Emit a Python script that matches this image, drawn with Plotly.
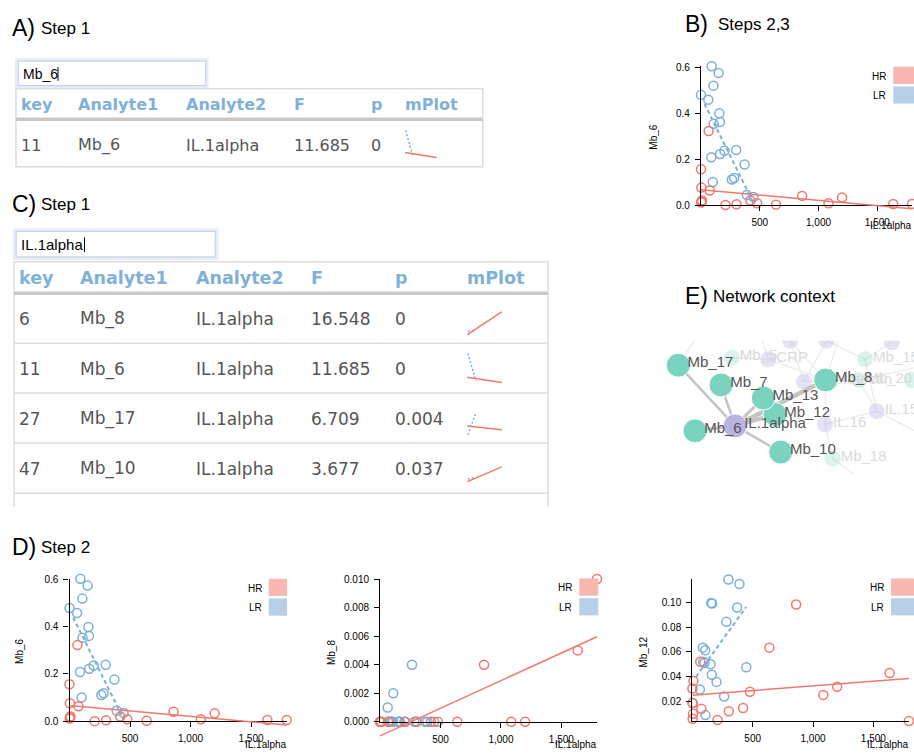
import plotly.graph_objects as go

W, H = 914, 756

# ---------------- data ----------------
# IL.1alpha (x) for the two groups
il1a_hr = [0, 3, 5, 2, 8, 65, 74, 208, 302, 420, 477, 638, 860, 1085, 1200, 1635, 1795]
il1a_lr = [0, 62, 87, 90, 100, 106, 108, 150, 156, 161, 163, 200, 263, 282, 299, 371, 390, 447]

mb6_hr = [0.156, 0.076, 0.017, 0.011, 0.020, 0.322, 0.063, 0.000, 0.004, 0.020, 0.008, 0.002, 0.040, 0.008, 0.033, 0.005, 0.005]
mb6_lr = [0.479, 0.458, 0.208, 0.603, 0.100, 0.519, 0.353, 0.574, 0.399, 0.361, 0.222, 0.236, 0.111, 0.118, 0.239, 0.176, 0.044, 0.035]
mb8_hr = [0, 0, 0, 0, 0, 0, 0, 0, 0, 0, 0, 0, 0.004, 0, 0, 0.005, 0.010]
mb8_lr = [0, 0.001, 0, 0, 0, 0, 0.002, 0, 0, 0, 0, 0, 0.004, 0, 0, 0, 0, 0]
mb12_hr = [0.0305, 0.0187, 0.010, 0.006, 0.0366, 0.052, 0.0142, 0.005, 0.0121, 0.0147, 0.0279, 0.0634, 0.0982, 0.0253, 0.0318, 0.0429, 0.0042]
mb12_lr = [0.0187, 0.0297, 0.0634, 0.0521, 0.051, 0.0613, 0.009, 0.050, 0.0995, 0.0416, 0.099, 0.0358, 0.024, 0.0842, 0.1184, 0.0958, 0.1147, 0.0476]

# regression fits [intercept, slope] per group
fit_mb6_hr = [0.0667, -4.6e-5]
fit_mb6_lr = [0.47, -1.03e-3]
fit_mb8_hr = [-0.00099, 3.87e-6]
fit_mb8_lr = [0.0001, 5e-7]
fit_mb12_hr = [0.0251, 7.5e-6]
fit_mb12_lr = [0.0359, 1.352e-4]
fit_mb17_hr = [0.278, -6.0e-5]   # Mb_17, scaled units
fit_mb17_lr = [-0.01, 1.46e-3]
fit_mb10_hr = [0.10, 2.26e-4]    # Mb_10, scaled units
fit_mb10_lr = [0.17, 8.5e-5]
lr_fit_start = 30

# tables
table_headers = ['key', 'Analyte1', 'Analyte2', 'F', 'p', 'mPlot']
tableA_key = ['11']
tableA_a1 = ['Mb_6']
tableA_a2 = ['IL.1alpha']
tableA_F = ['11.685']
tableA_p = ['0']
tableC_key = ['6', '11', '27', '47']
tableC_a1 = ['Mb_8', 'Mb_6', 'Mb_17', 'Mb_10']
tableC_a2 = ['IL.1alpha', 'IL.1alpha', 'IL.1alpha', 'IL.1alpha']
tableC_F = ['16.548', '11.685', '6.709', '3.677']
tableC_p = ['0', '0', '0.004', '0.037']

# network
net_main_names = ['Mb_17', 'Mb_7', 'Mb_8', 'Mb_12', 'Mb_13', 'Mb_6', 'IL.1alpha', 'Mb_10']
net_main_x = [18.3, 61.0, 165.7, 115.0, 103.3, 35.0, 75.0, 120.7]
net_main_y = [25.0, 45.0, 40.0, 75.0, 58.3, 91.7, 86.7, 113.3]
net_main_type = ['Mb', 'Mb', 'Mb', 'Mb', 'Mb', 'Mb', 'IL', 'Mb']
net_edge_src = ['Mb_17', 'Mb_7', 'Mb_13', 'Mb_8', 'Mb_12', 'Mb_6', 'Mb_10']
net_edge_weight = [2.5, 2.5, 3.0, 4.5, 4.0, 3.0, 2.5]

net_bg_names = ['Mb_5', 'CRP', 'IL.6', 'IL.8', 'IL.10', 'Mb_15', 'Calprotectin', 'Mb_20', 'Mb_21', 'IL.15', 'IL.16', 'Mb_18']
net_bg_labels = ['Mb_5', 'CRP', '', '', '', 'Mb_15', 'Calprotectin', 'Mb_20', '', 'IL.15', 'IL.16', 'Mb_18']
net_bg_x = [71.7, 108.3, 130.0, 166.7, 231.7, 205.0, 144.0, 198.3, 251.7, 216.7, 165.0, 172.7]
net_bg_y = [17.3, 19.0, 0.0, 0.0, 1.7, 19.0, 41.7, 40.0, 40.0, 71.7, 85.0, 120.0]
net_bg_type = ['Mb', 'IL', 'IL', 'IL', 'IL', 'Mb', 'IL', 'Mb', 'Mb', 'IL', 'IL', 'Mb']
net_out_names = ['o1', 'o2', 'o3', 'o4', 'o5', 'o6']
net_out_x = [90, 190, 290, 290, 240, 60]
net_out_y = [-40, -40, 20, 110, 170, -40]
net_bg_edges = [('CRP', 'o1'), ('Mb_5', 'CRP'), ('IL.6', 'Calprotectin'), ('IL.8', 'Calprotectin'),
                ('IL.8', 'Mb_15'), ('Mb_15', 'IL.10'), ('Mb_15', 'IL.15'), ('Mb_20', 'IL.15'),
                ('Mb_20', 'o3'), ('Calprotectin', 'Mb_20'), ('IL.16', 'Mb_8'), ('IL.16', 'IL.15'),
                ('IL.16', 'Mb_18'), ('IL.15', 'o4'), ('Mb_18', 'o5'), ('Mb_8', 'IL.6'),
                ('Mb_8', 'o2'), ('CRP', 'Mb_8'), ('Mb_17', 'o6')]

# ---------------- style ----------------
HR_COLOR = '#F4766C'
LR_COLOR = '#7BAFD8'
HR_KEY = '#F8B8B1'
LR_KEY = '#B8D0E7'
HEAD_COLOR = '#7FB1D9'
CELL_COLOR = '#555555'
TEAL = '#79D3BF'
PURPLE = '#B9B3E2'
FONT = 'Liberation Sans'
TFONT = 'DejaVu Sans'

fig = go.Figure()
axes_layout = {}
shapes = []
annotations = []
n_axes = [0]


def add_axes(xpx, ypx, xr, yr, pad=0.0, xstyle=None, ystyle=None):
    """xpx=(left,right) px, ypx=(bottom,top) px; xr/yr values at those px."""
    n_axes[0] += 1
    n = n_axes[0]
    sfx = '' if n == 1 else str(n)

    def xv(px):
        return xr[0] + (px - xpx[0]) * (xr[1] - xr[0]) / (xpx[1] - xpx[0])

    def yv(py):
        return yr[0] + (py - ypx[0]) * (yr[1] - yr[0]) / (ypx[1] - ypx[0])

    L = max(0.0, xpx[0] - pad)
    R = min(W, xpx[1] + pad)
    B = min(H, ypx[0] + pad)
    T = max(0.0, ypx[1] - pad)
    xa = dict(domain=[L / W, R / W], range=[xv(L), xv(R)], anchor='y' + sfx,
              visible=False, showgrid=False, zeroline=False, fixedrange=True)
    ya = dict(domain=[1 - B / H, 1 - T / H], range=[yv(B), yv(T)], anchor='x' + sfx,
              visible=False, showgrid=False, zeroline=False, fixedrange=True)
    if xstyle:
        xa.update(xstyle)
        xa['visible'] = True
    if ystyle:
        ya.update(ystyle)
        ya['visible'] = True
    axes_layout['xaxis' + sfx] = xa
    axes_layout['yaxis' + sfx] = ya
    return 'x' + sfx, 'y' + sfx


def add_text(px, py, s, size, color='black', family=FONT, xanchor='left', yanchor='middle', angle=0):
    annotations.append(dict(x=px / W, y=1 - py / H, xref='paper', yref='paper', text=s,
                            showarrow=False, xanchor=xanchor, yanchor=yanchor, textangle=angle,
                            borderpad=0, font=dict(size=size, color=color, family=family)))


def hline(x0, x1, y, color, width):
    shapes.append(dict(type='line', xref='paper', yref='paper', x0=x0 / W, x1=x1 / W,
                       y0=1 - y / H, y1=1 - y / H, line=dict(color=color, width=width)))


def vline(x, y0, y1, color, width):
    shapes.append(dict(type='line', xref='paper', yref='paper', x0=x / W, x1=x / W,
                       y0=1 - y0 / H, y1=1 - y1 / H, line=dict(color=color, width=width)))


def rect(x0, x1, y0, y1, line_color=None, width=0, fill=None):
    shapes.append(dict(type='rect', xref='paper', yref='paper', x0=x0 / W, x1=x1 / W,
                       y0=1 - y1 / H, y1=1 - y0 / H,
                       line=dict(color=line_color or 'rgba(0,0,0,0)', width=width),
                       fillcolor=fill or 'rgba(0,0,0,0)'))


def axis_style(tickvals, fmt):
    return dict(showline=True, linecolor='black', linewidth=1.3, ticks='outside', ticklen=5,
                tickwidth=1.3, tickcolor='black', tickvals=tickvals, tickformat=fmt,
                ticklabelstandoff=3,
                tickfont=dict(size=10, color='black', family=FONT))


def fit_line(fit, xs):
    return [fit[0] + fit[1] * x for x in xs]


IL_MAX = max(il1a_hr + il1a_lr)


def scatter_panel(box, y_hr, y_lr, fit_hr, fit_lr, yticks, yfmt, ylab, ylab_x, xlab_y,
                  legend, draw_lr_fit=True):
    x0, x1, yt, yb = box
    xr = [0, IL_MAX]
    yr = [min(y_hr + y_lr), max(y_hr + y_lr)]
    xs, ys = add_axes((x0, x1), (yb, yt), xr, yr, 0,
                      xstyle=axis_style([500, 1000, 1500], ',.0f'),
                      ystyle=axis_style(yticks, yfmt))
    xo, yo = add_axes((x0, x1), (yb, yt), xr, yr, 30)
    fig.add_trace(go.Scatter(x=il1a_lr, y=y_lr, mode='markers', xaxis=xs, yaxis=ys,
                             cliponaxis=False, hoverinfo='skip',
                             marker=dict(symbol='circle-open', size=9, color=LR_COLOR,
                                         line=dict(width=1.5))))
    fig.add_trace(go.Scatter(x=il1a_hr, y=y_hr, mode='markers', xaxis=xs, yaxis=ys,
                             cliponaxis=False, hoverinfo='skip',
                             marker=dict(symbol='circle-open', size=9, color=HR_COLOR,
                                         line=dict(width=1.5))))
    hx = [0, max(il1a_hr)]
    fig.add_trace(go.Scatter(x=hx, y=fit_line(fit_hr, hx), mode='lines', xaxis=xo, yaxis=yo,
                             hoverinfo='skip', line=dict(color=HR_COLOR, width=1.5)))
    if draw_lr_fit:
        lx = [lr_fit_start, max(il1a_lr)]
        fig.add_trace(go.Scatter(x=lx, y=fit_line(fit_lr, lx), mode='lines', xaxis=xo, yaxis=yo,
                                 hoverinfo='skip',
                                 line=dict(color=LR_COLOR, width=2, dash='4px,3px')))
    add_text(ylab_x, (yt + yb) / 2 + 2, ylab, 10, angle=-90, xanchor='center')
    add_text(x1 + 1, xlab_y, 'IL.1alpha', 10, xanchor='right')
    lx0, lx1, ly0, ty = legend
    rect(lx0, lx1, ly0, ly0 + 17.5, fill=HR_KEY)
    rect(lx0, lx1, ly0 + 20, ly0 + 37.5, fill=LR_KEY)
    add_text(ty, ly0 + 9.5, 'HR', 10, xanchor='right')
    add_text(ty, ly0 + 29.5, 'LR', 10, xanchor='right')


def mini_plot(xpx, ypx, yr, fit_hr, fit_lr):
    xo, yo = add_axes(xpx, ypx, [0, IL_MAX], yr, 6)
    hx = [0, max(il1a_hr)]
    lx = [lr_fit_start, max(il1a_lr)]
    fig.add_trace(go.Scatter(x=lx, y=fit_line(fit_lr, lx), mode='lines', xaxis=xo, yaxis=yo,
                             hoverinfo='skip', line=dict(color=LR_COLOR, width=1.5, dash='2px,2px')))
    fig.add_trace(go.Scatter(x=hx, y=fit_line(fit_hr, hx), mode='lines', xaxis=xo, yaxis=yo,
                             hoverinfo='skip', line=dict(color=HR_COLOR, width=1.5)))


def title(letter, rest, x, y, rest_x):
    add_text(x, y, letter, 23)
    add_text(rest_x, y + 0.5, rest, 17)


title('A)', 'Step 1', 10.5, 22, 40)
title('B)', 'Steps 2,3', 684, 18, 717)
title('C)', 'Step 1', 10.5, 201.5, 40)
title('D)', 'Step 2', 10.5, 550, 40)
title('E)', 'Network context', 684, 295, 712)

# ---------------- panel A table ----------------
rect(16.5, 207, 54.5, 82.5, line_color='#e6ecf8', width=3)
rect(18.3, 205.7, 56, 81, line_color='#c6d3ee', width=1.2, fill='white')
add_text(22, 69, 'Mb_6', 14)
vline(58, 62, 76, 'black', 1)
rect(16, 482.7, 84, 163.3, line_color='#dddddd', width=1.5)
hline(16, 482.7, 115, '#c8c8c8', 3.5)
colA = [21.3, 77.7, 185.7, 294.3, 370.7, 405]
for cx, h in zip(colA, table_headers):
    add_text(cx - 1, 100, '<b>' + h + '</b>', 16, HEAD_COLOR, TFONT)
for i in range(len(tableA_key)):
    vals = [tableA_key[i], tableA_a1[i], tableA_a2[i], tableA_F[i], tableA_p[i]]
    for cx, v in zip(colA, vals):
        add_text(cx - 1, 141.7, v, 16, CELL_COLOR, TFONT)
mini_plot((405, 436.7), (153, 116.5), [0, max(mb6_hr + mb6_lr)], fit_mb6_hr, fit_mb6_lr)

# ---------------- panel C table ----------------
rect(14.5, 217, 227.5, 256.5, line_color='#e6ecf8', width=3)
rect(16.2, 215.2, 229, 255, line_color='#c6d3ee', width=1.2, fill='white')
add_text(20, 242.5, 'IL.1alpha', 15)
vline(84.5, 235, 250, 'black', 1)
hline(14, 548, 260, '#dddddd', 1.5)
vline(14, 260, 509, '#dddddd', 1.5)
vline(548, 260, 508, '#dddddd', 1.5)
hline(14, 548, 292, '#c8c8c8', 3.5)
for yy in [342.7, 393.3, 444, 495]:
    hline(14, 548, yy, '#dddddd', 1.5)
colC = [18.9, 80, 196, 310.8, 394.6, 467.3]
for cx, h in zip(colC, table_headers):
    add_text(cx - 1, 276.5, '<b>' + h + '</b>', 17.5, HEAD_COLOR, TFONT)
rowC_y = [317.7, 369, 419.3, 470]
for i in range(len(tableC_key)):
    vals = [tableC_key[i], tableC_a1[i], tableC_a2[i], tableC_F[i], tableC_p[i]]
    for cx, v in zip(colC, vals):
        add_text(cx - 1, rowC_y[i], v, 17, CELL_COLOR, TFONT)

mini_x = (467.3, 501.7)
mini_plot(mini_x, (330.7, 297.2), [0, max(mb8_hr + mb8_lr)], fit_mb8_hr, fit_mb8_lr)
mini_plot(mini_x, (381.6, 342.4), [0, max(mb6_hr + mb6_lr)], fit_mb6_hr, fit_mb6_lr)
mini_plot(mini_x, (437, 400), [0, 1], fit_mb17_hr, fit_mb17_lr)
mini_plot(mini_x, (487, 450), [0, 1], fit_mb10_hr, fit_mb10_lr)

# ---------------- scatter panels ----------------
scatter_panel((701, 912, 61.3, 202.3), mb6_hr, mb6_lr, fit_mb6_hr, fit_mb6_lr,
              [0, 0.2, 0.4, 0.6], '.1f', 'Mb_6', 654, 223.3, (893.3, 914, 61.7, 886.7))
scatter_panel((69.5, 286.7, 582.0, 726.7), mb6_hr, mb6_lr, fit_mb6_hr, fit_mb6_lr,
              [0, 0.2, 0.4, 0.6], '.1f', 'Mb_6', 20, 750.7, (268.7, 287, 582, 263.3))
scatter_panel((380.2, 597.0, 582.3, 727.3), mb8_hr, mb8_lr, fit_mb8_hr, fit_mb8_lr,
              [0, 0.002, 0.004, 0.006, 0.008, 0.010], '.3f', 'Mb_8', 331.7, 750.3,
              (579.3, 598.3, 581.7, 573.3), draw_lr_fit=False)
scatter_panel((692.4, 908.9, 582.7, 726.6), mb12_hr, mb12_lr, fit_mb12_hr, fit_mb12_lr,
              [0.02, 0.04, 0.06, 0.08, 0.10], '.2f', 'Mb_12', 643.3, 750.3,
              (891, 914, 581.7, 885))

# ---------------- network ----------------
nx, ny = add_axes((660, 914), (475, 340), [0, 254], [135, 0], 0)
pos = {}
for nm, x, y in zip(net_main_names, net_main_x, net_main_y):
    pos[nm] = (x, y)
for nm, x, y in zip(net_bg_names, net_bg_x, net_bg_y):
    pos[nm] = (x, y)
for nm, x, y in zip(net_out_names, net_out_x, net_out_y):
    pos[nm] = (x, y)

ex, ey = [], []
for a, b in net_bg_edges:
    ex += [pos[a][0], pos[b][0], None]
    ey += [pos[a][1], pos[b][1], None]
fig.add_trace(go.Scatter(x=ex, y=ey, mode='lines', xaxis=nx, yaxis=ny, hoverinfo='skip',
                         line=dict(color='#eeeeee', width=1.5)))

bg_col = ['rgba(121,211,191,0.28)' if t == 'Mb' else 'rgba(185,179,226,0.38)' for t in net_bg_type]
fig.add_trace(go.Scatter(x=net_bg_x, y=net_bg_y, mode='markers', xaxis=nx, yaxis=ny,
                         hoverinfo='skip', marker=dict(size=16, color=bg_col, line=dict(width=0))))
fig.add_trace(go.Scatter(x=[v + 8 for v in net_bg_x], y=[v - 1 for v in net_bg_y], mode='text',
                         text=net_bg_labels, textposition='middle right', xaxis=nx, yaxis=ny,
                         hoverinfo='skip', textfont=dict(size=15, color='#dadada', family=FONT)))

for src, wgt in zip(net_edge_src, net_edge_weight):
    fig.add_trace(go.Scatter(x=[pos[src][0], pos['IL.1alpha'][0]],
                             y=[pos[src][1], pos['IL.1alpha'][1]], mode='lines',
                             xaxis=nx, yaxis=ny, hoverinfo='skip',
                             line=dict(color='#c4c4c4', width=wgt)))

main_col = [TEAL if t == 'Mb' else PURPLE for t in net_main_type]
fig.add_trace(go.Scatter(x=net_main_x, y=net_main_y, mode='markers', xaxis=nx, yaxis=ny,
                         hoverinfo='skip',
                         marker=dict(size=24, color=main_col, opacity=1,
                                     line=dict(color='white', width=1))))
fig.add_trace(go.Scatter(x=[v + 9.2 for v in net_main_x], y=[v - 1.5 for v in net_main_y],
                         mode='text', text=net_main_names, textposition='middle right',
                         xaxis=nx, yaxis=ny, hoverinfo='skip',
                         textfont=dict(size=15, color='#555555', family=FONT)))

fig.update_layout(width=W, height=H, autosize=False, showlegend=False,
                  margin=dict(l=0, r=0, t=0, b=0, pad=0),
                  paper_bgcolor='white', plot_bgcolor='rgba(0,0,0,0)',
                  font=dict(family=FONT, color='black'),
                  shapes=shapes, annotations=annotations, **axes_layout)

fig.write_html("out.html", config={'displayModeBar': False},
               post_script="document.documentElement.style.margin='0';"
                           "document.body.style.margin='0';document.body.style.padding='0';"
                           "document.body.style.overflow='hidden';")
